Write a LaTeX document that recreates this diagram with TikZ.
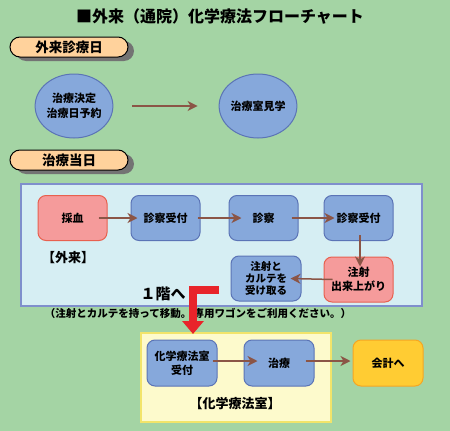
\documentclass[tikz,border=0pt]{standalone}
\usepackage{fontspec}
\setmainfont{Noto Sans CJK JP}
\usetikzlibrary{arrows.meta,shapes.geometric}

\definecolor{bggreen}{HTML}{A4D4A4}
\definecolor{tagfill}{HTML}{FFD29C}
\definecolor{stepblue}{HTML}{86A8DB}
\definecolor{stepblueline}{HTML}{5B74B6}
\definecolor{steppink}{HTML}{F59B9B}
\definecolor{steppinkline}{HTML}{E8604F}
\definecolor{payfill}{HTML}{FFCC33}
\definecolor{payline}{HTML}{F5A623}
\definecolor{gaifill}{HTML}{D6EEF3}
\definecolor{gailine}{HTML}{7F8FCC}
\definecolor{roomfill}{HTML}{FDFACC}
\definecolor{roomline}{HTML}{F2E46A}
\definecolor{flowbrown}{HTML}{8B5546}
\definecolor{gored}{HTML}{E8242A}

\tikzset{
  tagbox/.style={draw=black, line width=1pt, fill=tagfill, rounded corners=10pt,
    minimum width=118pt, minimum height=20pt, inner sep=0pt,
    font=\bfseries\fontsize{13.5}{14}\selectfont},
  tagshadow/.style={fill=black!55, rounded corners=10pt, minimum width=118pt,
    minimum height=20pt, inner sep=0pt},
  visit/.style={ellipse, draw=stepblueline, line width=1pt, fill=stepblue,
    minimum width=70pt, minimum height=64pt, inner sep=0pt, align=center,
    font=\bfseries\fontsize{11}{15}\selectfont},
  stepbox/.style={draw=stepblueline, line width=1pt, fill=stepblue, rounded corners=8pt,
    minimum width=69pt, minimum height=45pt, inner sep=0pt, align=center,
    font=\bfseries\fontsize{11}{14}\selectfont},
  pinkbox/.style={stepbox, draw=steppinkline, fill=steppink},
  paybox/.style={stepbox, draw=payline, fill=payfill},
  flow/.style={draw=flowbrown, line width=1.5pt,
    -{Stealth[length=10pt,width=10pt,inset=3pt]}, fill=flowbrown},
  roomlabel/.style={font=\bfseries\fontsize{13}{14}\selectfont}
}

\begin{document}
\begin{tikzpicture}[x=1pt,y=-1pt]
\useasboundingbox[fill=bggreen] (0,0) rectangle (450,431);

% title
\node (title) at (220,16) {\bfseries\fontsize{16}{18}\selectfont ■外来（通院）化学療法フローチャート};

% outpatient day
\node[tagshadow] at (75,51) {};
\node[tagbox] (tagvisit) at (69,47) {外来診療日};
\node[visit] (decide) at (74,106) {治療決定\\治療日予約};
\node[visit] (tour) at (258,106) {治療室見学};
\draw[flow, shorten <=19pt, shorten >=21pt] (decide) -- (tour);

% treatment day
\node[tagshadow] at (75,164) {};
\node[tagbox] (tagday) at (69,160) {治療当日};

\draw[draw=gailine, line width=1.2pt, fill=gaifill] (21,184) rectangle (422,306);
\node[roomlabel] (gairai) at (68,258) {【外来】};

\node[pinkbox] (blood) at (72.5,218) {採血};
\node[stepbox] (recept1) at (165.5,218) {診察受付};
\node[stepbox] (exam) at (263.5,218) {診察};
\node[stepbox] (recept2) at (358.5,218) {診察受付};
\node[pinkbox] (ready) at (358.5,279.5) {注射\\出来上がり};
\node[stepbox, minimum width=70pt, font=\bfseries\fontsize{10.5}{12.3}\selectfont]
  (take) at (266,278.5) {注射と\\カルテを\\受け取る};

\draw[flow] ([xshift=-9pt]blood.east) -- ([xshift=7pt]recept1.west);
\draw[flow] ([xshift=-3pt]recept1.east) -- ([xshift=13pt]exam.west);
\draw[flow] ([xshift=-7pt]exam.east) -- ([xshift=11pt]recept2.west);
\draw[flow] ([xshift=1.5pt,yshift=6pt]recept2.south) -- ([xshift=1.5pt,yshift=-10pt]ready.north);
\draw[flow] ([xshift=9pt]ready.west) -- ([xshift=-11pt]take.east);

% to the 1st floor
\node (ikkai) at (163,294) {\bfseries\fontsize{15}{16}\selectfont １階へ};
\node (note) at (198,313) {\bfseries\fontsize{10.5}{11}\selectfont （注射とカルテを持って移動。\ 専用ワゴンをご利用ください。）};

% chemotherapy room
\draw[draw=roomline, line width=1.2pt, fill=roomfill] (141,333) rectangle (331,422);
\node[roomlabel] (chemo) at (235,404) {【化学療法室】};

\node[stepbox, minimum width=70pt, minimum height=46pt] (chemrecept) at (182,363) {化学療法室\\受付};
\node[stepbox, minimum width=70pt, minimum height=46pt] (cure) at (279,363) {治療};
\node[paybox, minimum width=70pt, minimum height=46pt] (pay) at (388,363) {会計へ};

\draw[flow] ([xshift=-5pt,yshift=2pt]chemrecept.east) -- ([xshift=14pt,yshift=2pt]cure.west);
\draw[flow] ([xshift=-9pt,yshift=2pt]cure.east) -- ([xshift=-2pt,yshift=2pt]pay.west);

% red guide arrow
\coordinate (redstart) at (219,289.5);
\coordinate (redend) at (193,334);
\draw[gored, line width=8pt, -{Triangle[length=13pt,width=21pt]}] (redstart) -| (redend);
\end{tikzpicture}
\end{document}
